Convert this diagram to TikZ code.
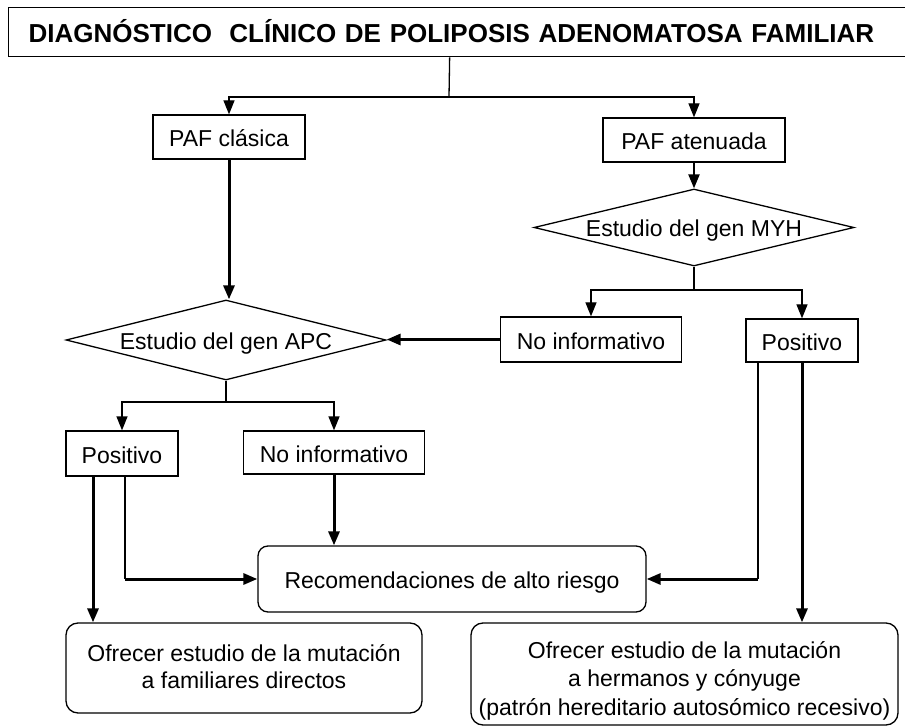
\documentclass[tikz,border=0pt]{standalone}
\usepackage{fontspec}
\setmainfont{Liberation Sans}
\usetikzlibrary{arrows.meta,shapes.geometric}
\begin{document}
\begin{tikzpicture}[x=1pt,y=-1pt,
  every node/.style={font=\fontsize{23}{28}\selectfont, text=black},
  box/.style={draw, line width=1.3pt, inner sep=0pt, text height=19pt, text depth=0pt},
  rbox/.style={draw, line width=1.3pt, inner sep=0pt, align=center, rounded corners=12pt},
  dia/.style={draw, diamond, aspect=4, inner sep=0pt, line width=1.3pt, text height=19pt, text depth=0pt},
  lthin/.style={line width=1.3pt},
  lmid/.style={line width=2.2pt},
  lthick/.style={line width=3pt},
  arr/.style={-{Triangle[length=14pt,width=11pt]}},
]
\useasboundingbox (0,0) rectangle (905,727);

\node[draw, line width=1.3pt, font=\fontsize{26}{30}\selectfont\bfseries, text width=870pt, align=left,
      inner xsep=20pt, inner ysep=0pt, text height=20.5pt, text depth=0pt,
      minimum height=49pt, anchor=north west]
      (title) at (8,7) {DIAGNÓSTICO\ \ CLÍNICO DE POLIPOSIS ADENOMATOSA FAMILIAR};

\node[box, minimum width=152pt, minimum height=44pt] (pafc) at (229,137) {PAF clásica};
\node[box, minimum width=182pt, minimum height=44pt] (pafa) at (694,140) {PAF atenuada};
\node[dia, minimum width=320pt, minimum height=77pt] (myh) at (694,227.5) {Estudio del gen MYH};
\node[box, minimum width=181pt, minimum height=45pt] (ninfR) at (591,339.5) {No informativo};
\node[box, minimum width=112pt, minimum height=43pt] (posR) at (802,340.5) {Positivo};
\node[dia, minimum width=320pt, minimum height=80pt] (apc) at (226,340) {Estudio del gen APC};
\node[box, minimum width=112pt, minimum height=45pt] (posL) at (122,453.5) {Positivo};
\node[box, minimum width=181pt, minimum height=43pt] (ninfL) at (334,452.5) {No informativo};
\node[box, rounded corners=10pt, minimum width=388pt, minimum height=66pt] (rec) at (452,579) {Recomendaciones de alto riesgo};
\node[rbox, font=\fontsize{23}{27}\selectfont, text height=41pt, text depth=0pt,
      minimum width=356pt, minimum height=90pt] (ofL) at (244,668)
  {Ofrecer estudio de la mutación\\a familiares directos};
\node[rbox, font=\fontsize{23}{28.5}\selectfont, text height=82pt, text depth=0pt,
      minimum width=427pt, minimum height=102pt] (ofR) at (684.5,674)
  {Ofrecer estudio de la mutación\\a hermanos y cónyuge\\(patrón hereditario autosómico recesivo)};

\coordinate (j1) at (449,97);
\coordinate (j2) at (694,290);
\coordinate (j3) at (226,402);

\draw[lthin] ([xshift=-14pt]title.south) -- (j1);
\draw[lthin,arr] (j1) -| (pafc.north);
\draw[lthin,arr] (j1) -| (pafa.north);
\draw[lmid,arr] (pafa.south) -- (myh.north);
\draw[lthin] (myh.south) -- (j2);
\draw[lthin,arr] (j2) -| (ninfR.north);
\draw[lthin,arr] (j2) -| (posR.north);
\draw[lthick,arr] (ninfR.west) -- (ninfR.west -| apc.east);
\draw[lthick,arr] (pafc.south) -- (pafc.south |- apc.north);
\draw[lthin] (apc.south) -- (j3);
\draw[lthin,arr] (j3) -| (posL.north);
\draw[lthin,arr] (j3) -| (ninfL.north);
\draw[lthick,arr] ([xshift=-29pt]posL.south) -- ([xshift=-29pt]posL.south |- ofL.north);
\draw[lthin] ([xshift=3pt]posL.south) -- ([xshift=3pt]posL.south |- rec.west);
\draw[lthick,arr] ([xshift=3pt]posL.south |- rec.west) -- (rec.west);
\draw[lthick,arr] (ninfL.south) -- (ninfL.south |- rec.north);
\draw[lthin] ([xshift=-44pt]posR.south) -- ([xshift=-44pt]posR.south |- rec.east);
\draw[lthick,arr] ([xshift=-44pt]posR.south |- rec.east) -- (rec.east);
\draw[lthick,arr] (posR.south) -- (posR.south |- ofR.north);
\end{tikzpicture}
\end{document}
